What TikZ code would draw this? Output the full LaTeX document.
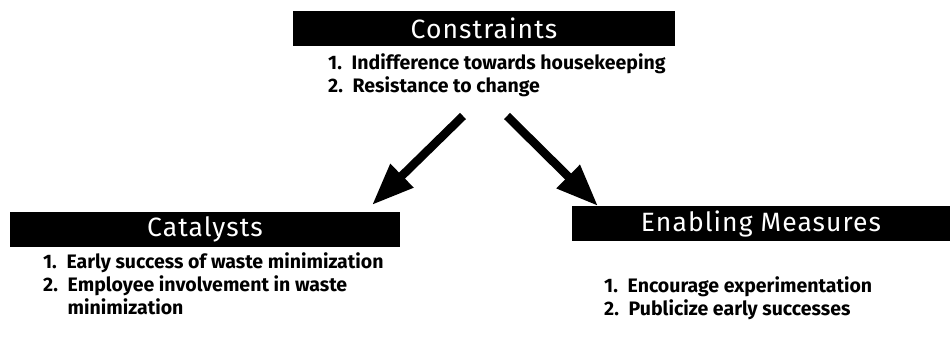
\documentclass[tikz,border=0pt]{standalone}
\usepackage{fontspec}
\setmainfont{Fira Sans}
\usetikzlibrary{arrows.meta}
\tikzset{
  titlebox/.style={fill=black, text=white, minimum height=35pt, inner sep=0pt,
    font=\fontsize{26.5}{30}\selectfont\addfontfeatures{LetterSpace=4}},
  % lists are placed by the baseline of their last line
  itemlist/.style={align=left, anchor=base west, inner sep=0pt,
    font=\fontsize{19.5}{23}\selectfont\bfseries},
  bigarrow/.style={line width=8.5pt, -{Triangle[width=31pt,length=42pt]}}
}
\begin{document}
\begin{tikzpicture}[x=1pt,y=-1pt]
  \useasboundingbox (0,0) rectangle (951,338);
  % headings
  \node[titlebox, minimum width=382pt] (con) at (484,28) {Constraints};
  \node[titlebox, minimum width=390pt] (cat) at (205,229.5) {Catalysts};
  \node[titlebox, minimum width=378pt] (ena) at (761,223.5) {Enabling Measures};
  % item lists
  \node[itemlist] (conl) at (328,92)
    {1.\enspace Indifference towards housekeeping\\2.\enspace Resistance to change};
  \node[itemlist] (catl) at (43,314)
    {1.\enspace Early success of waste minimization\\2.\enspace Employee involvement in waste\\\phantom{2.\enspace}minimization};
  \node[itemlist] (enal) at (604,315)
    {1.\enspace Encourage experimentation\\2.\enspace Publicize early successes};
  % arrows
  \coordinate (s1) at (463,116);
  \coordinate (t1) at (372,205);
  \coordinate (s2) at (507,116);
  \coordinate (t2) at (598,206);
  \draw[bigarrow] (s1) -- (t1);
  \draw[bigarrow] (s2) -- (t2);
\end{tikzpicture}
\end{document}
